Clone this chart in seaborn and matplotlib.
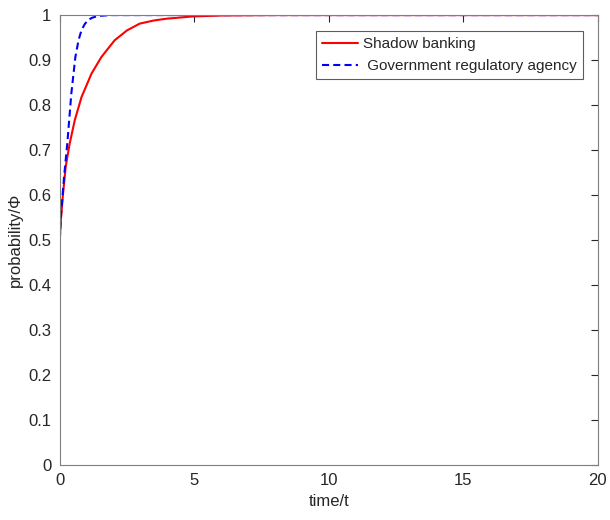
import seaborn as sns
import matplotlib.pyplot as plt
import pandas as pd

# values
t_shadow = [0, 0.04, 0.12, 0.22, 0.37, 0.56, 0.81, 1.18, 1.55, 2.04, 2.5, 2.97,
            3.5, 3.97, 4.95, 6, 8, 20]
p_shadow = [0.5, 0.544, 0.602, 0.663, 0.715, 0.767, 0.818, 0.870, 0.907, 0.944,
            0.966, 0.981, 0.988, 0.992, 0.997, 0.999, 1.0, 1.0]

t_gov = [0, 0.04, 0.16, 0.28, 0.43, 0.58, 0.7, 0.81, 0.93, 1.05, 1.2, 1.42, 1.9, 20]
p_gov = [0.5, 0.552, 0.641, 0.715, 0.826, 0.907, 0.945, 0.967, 0.980, 0.989,
         0.994, 0.998, 1.0, 1.0]

labels = ["Shadow banking", " Government regulatory agency"]

df = pd.concat([
    pd.DataFrame({"t": t_shadow, "p": p_shadow, "who": labels[0]}),
    pd.DataFrame({"t": t_gov, "p": p_gov, "who": labels[1]}),
])

sns.set_style("white")
plt.rcParams['font.family'] = ['Liberation Sans', 'DejaVu Sans']

fig = plt.figure(figsize=(6.1, 5.2), dpi=100)
ax = fig.add_axes([0.098, 0.106, 0.882, 0.865])

sns.lineplot(data=df, x="t", y="p", hue="who", style="who",
             palette={labels[0]: "#ff0000", labels[1]: "#0000ff"},
             dashes={labels[0]: "", labels[1]: (3.4, 2.0)},
             linewidth=1.5, sort=False, estimator=None, ax=ax)

ax.set_xlim(0, 20)
ax.set_ylim(0, 1)
ax.set_xticks([0, 5, 10, 15, 20])
ax.set_yticks([i / 10 for i in range(11)])
ax.set_yticklabels(["0", "0.1", "0.2", "0.3", "0.4", "0.5", "0.6", "0.7", "0.8", "0.9", "1"])
ax.set_xlabel("time/t", fontsize=12, color="#262626")
ax.set_ylabel("probability/\u03a6", fontsize=12, color="#262626")
ax.tick_params(direction="in", top=True, right=True, length=5, width=0.8,
               colors="#262626", labelsize=12, pad=6)
for s in ax.spines.values():
    s.set_color("#7f7f7f")
    s.set_linewidth(0.8)

leg = ax.legend(loc="upper right", bbox_to_anchor=(0.972, 0.964), fontsize=11,
                frameon=True, fancybox=False, edgecolor="#333333",
                handlelength=2.35, handletextpad=0.35, borderpad=0.4,
                labelspacing=0.5, borderaxespad=0)
leg.get_frame().set_linewidth(0.8)
leg.set_title(None)

fig.savefig("out.png", dpi=100)
